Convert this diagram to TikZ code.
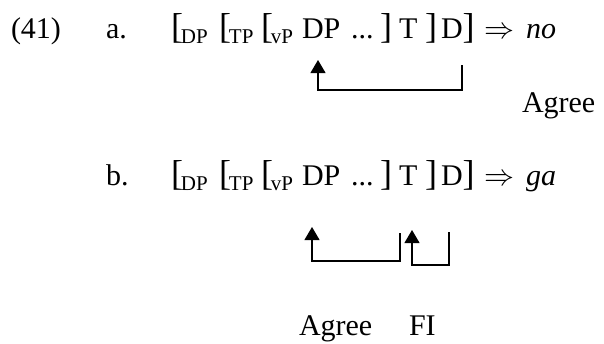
\RequirePackage{fix-cm}
\documentclass[tikz,border=0pt]{standalone}
\usepackage{fontspec}
\setmainfont{Liberation Serif}
\usetikzlibrary{arrows.meta}
\newcommand{\lsub}[1]{\raisebox{-5pt}{\fontsize{21}{21}\selectfont #1}}
\newcommand{\lbr}{{\fontsize{36}{36}\selectfont[}}
\newcommand{\rbr}{{\fontsize{36}{36}\selectfont]}}
\tikzset{
  tok/.style={anchor=base west, inner sep=0pt, outer sep=0pt, font=\fontsize{30}{36}\selectfont},
  link/.style={line width=1.1pt, -{Triangle[width=15pt,length=13pt]}}
}
\begin{document}
\begin{tikzpicture}[x=1pt,y=-1pt]
\useasboundingbox (0,0) rectangle (604,343);
% (41) a.
\node[tok] (n41) at (11,38) {(41)};
\node[tok] (la) at (106,38) {a.};
\node[tok] (a1) at (171,38) {\lbr\kern-2pt\lsub{DP}};
\node[tok] (a2) at (219,38) {\lbr\kern-2pt\lsub{TP}};
\node[tok] (a3) at (261,38) {\lbr\kern-2pt\lsub{vP}};
\node[tok] (aDP) at (302,38) {DP};
\node[tok] (adots) at (351,38) {...};
\node[tok] (ab1) at (380,38) {\rbr};
\node[tok] (aT) at (399,38) {T};
\node[tok] (ab2) at (425,38) {\rbr};
\node[tok] (aD) at (441,38) {D\rbr};
\node[tok] (aarr) at (484,38) {$\Rightarrow$};
\node[tok] (ano) at (526,38) {\textit{no}};
\node[tok] (aagree) at (522,112) {Agree};
\coordinate (aR) at (462,65);
\coordinate (aL) at (318,60);
\draw[link] (aR) -- (462,90) -| (aL);
% b.
\node[tok] (lb) at (106,185) {b.};
\node[tok] (b1) at (171,185) {\lbr\kern-2pt\lsub{DP}};
\node[tok] (b2) at (219,185) {\lbr\kern-2pt\lsub{TP}};
\node[tok] (b3) at (261,185) {\lbr\kern-2pt\lsub{vP}};
\node[tok] (bDP) at (302,185) {DP};
\node[tok] (bdots) at (351,185) {...};
\node[tok] (bb1) at (380,185) {\rbr};
\node[tok] (bT) at (399,185) {T};
\node[tok] (bb2) at (425,185) {\rbr};
\node[tok] (bD) at (441,185) {D\rbr};
\node[tok] (barr) at (484,185) {$\Rightarrow$};
\node[tok] (bga) at (526,185) {\textit{ga}};
\coordinate (bR1) at (400,233);
\coordinate (bL1) at (312,227);
\draw[link] (bR1) -- (400,261) -| (bL1);
\coordinate (bR2) at (449,232);
\coordinate (bL2) at (412,230);
\draw[link] (bR2) -- (449,265) -| (bL2);
\node[tok] (bagree) at (299,335) {Agree};
\node[tok] (bfi) at (409,335) {FI};
\end{tikzpicture}
\end{document}
